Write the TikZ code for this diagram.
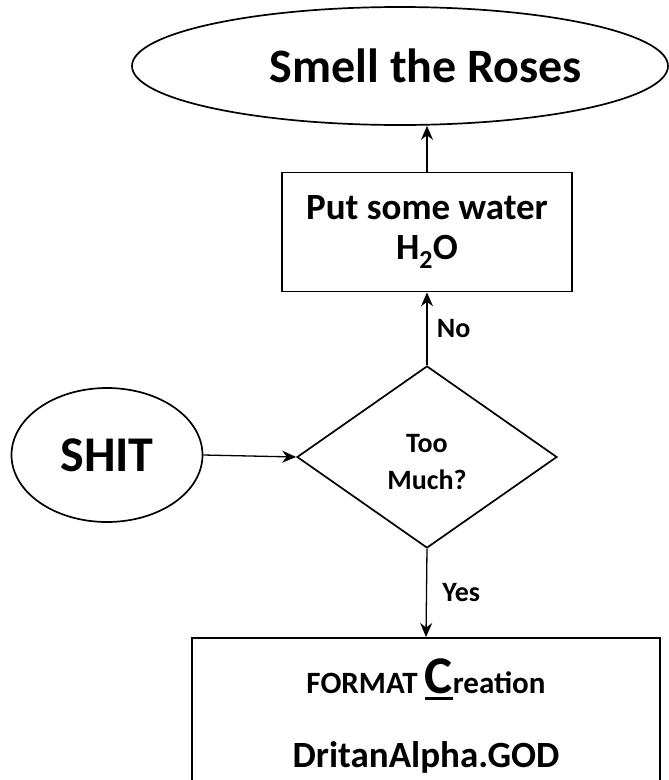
\documentclass[tikz,border=0pt]{standalone}
\usepackage{fontspec}
\setmainfont{Carlito}
\usetikzlibrary{shapes.geometric,arrows.meta}
\newcommand\thickul[1]{\setbox0\hbox{#1}\rlap{\rule[-7pt]{\wd0}{3pt}}\box0}
\begin{document}
\begin{tikzpicture}[x=1pt,y=-1pt,
	flowline/.style={line width=1.7pt},
	flowarrow/.style={line width=1.3pt,-{Stealth[length=14pt,width=12pt]}},
	bigtext/.style={font=\fontsize{48}{52}\selectfont\bfseries},
	midtext/.style={font=\fontsize{37}{40}\selectfont\bfseries},
	smalltext/.style={font=\fontsize{28}{37}\selectfont\bfseries}]
	\useasboundingbox (0,0) rectangle (669,780);
	\clip (0,0) rectangle (669,780);
	% Draw the goal and the start
	\node[ellipse,draw,flowline,minimum width=536pt,minimum height=118pt] (roses) at (400,66) {};
	\node[bigtext] (rosestext) at (426,66) {Smell the Roses};
	\node[ellipse,draw,flowline,minimum width=191pt,minimum height=134pt,font=\fontsize{50}{52}\selectfont\bfseries] (shit) at (107,455) {SHIT};
	
	% Draw the steps
	\node[rectangle,draw,flowline,minimum width=290pt,minimum height=119pt,midtext,align=center] (water) at (427,232) {Put some water\\H\textsubscript{2}O};
	\node[diamond,draw,flowline,minimum width=260pt,minimum height=182pt,inner sep=0pt,smalltext,align=center] (much) at (427,457) {\\[-8pt]Too\\Much?};
	\node[rectangle,draw,flowline,minimum width=468pt,minimum height=170pt,anchor=north] (create) at (426,637) {};
	\node[anchor=base,font=\fontsize{31}{37}\selectfont\bfseries] (format) at (426,693) {FORMAT {\fontsize{53}{53}\selectfont\thickul{C}}reation};
	\node[midtext,anchor=base] (god) at (426,767) {DritanAlpha.GOD};
	
	% Connect them
	\draw[flowarrow] (shit.east) -- (much.west);
	\draw[flowarrow] (much.north) -- node[right,smalltext,xshift=6pt] (no) {No} (water.south);
	\draw[flowarrow] (water.north) -- (water.north |- roses.south);
	\draw[flowarrow] (much.south) -- node[right,smalltext,xshift=12pt] (yes) {Yes} (create.north);
\end{tikzpicture}
\end{document}
